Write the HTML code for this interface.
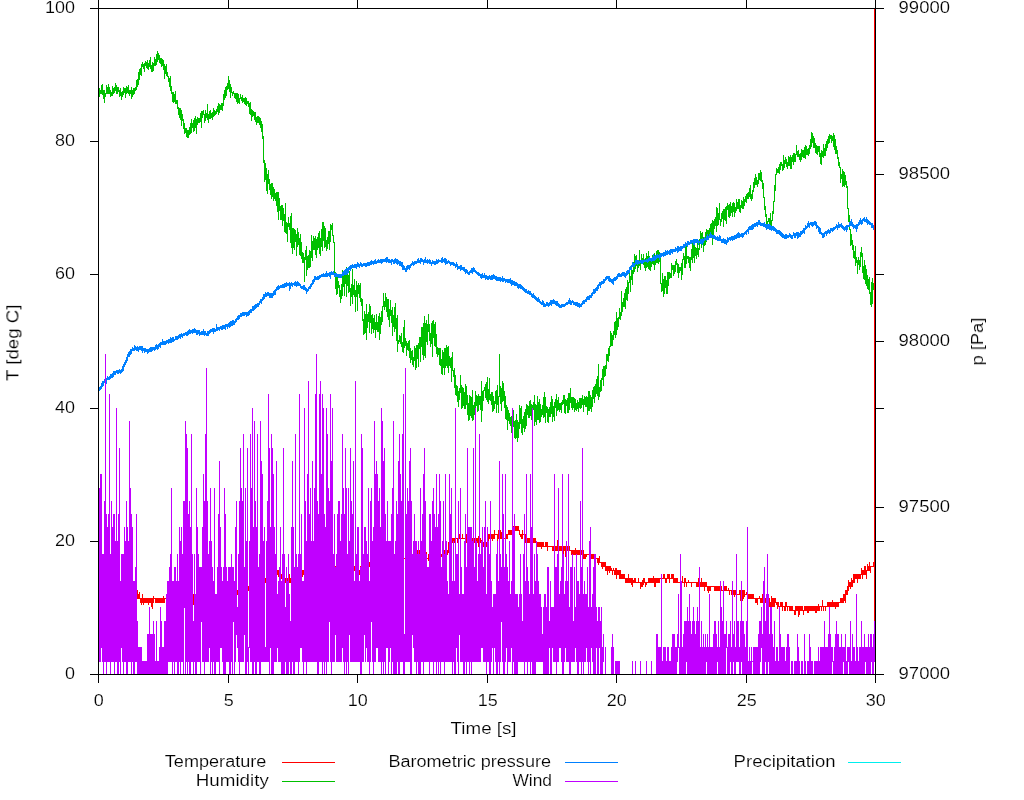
<!DOCTYPE html>
<html>
<head>
<meta charset="utf-8">
<title>Weather plot</title>
<style>
html, body { margin: 0; padding: 0; background: #ffffff; }
body { width: 1024px; height: 800px; overflow: hidden; }
svg { display: block; }
text { font-family: "Liberation Sans", sans-serif; font-size: 15.6px; fill: #000000; stroke: #ffffff; stroke-width: 0.16px; }
</style>
</head>
<body>
<svg width="1024" height="800" viewBox="0 0 1024 800">
<rect x="0" y="0" width="1024" height="800" fill="#ffffff"/>
<g shape-rendering="crispEdges">
<path fill="#ff0000" d="M98 584v7h1v-7zM99 586v9h1v-9zM100 590v5h1v-5zM101 590v1h1v-1zM102 590v5h1v-5zM103 590v5h1v-5zM104 590v5h1v-5zM105 590v5h1v-5zM106 586v9h1v-9zM107 590v5h1v-5zM108 590v5h1v-5zM109 594v1h1v-1zM110 590v7h1v-7zM111 590v5h1v-5zM112 590v5h1v-5zM113 590v5h1v-5zM114 590v7h1v-7zM115 594v1h1v-1zM116 590v5h1v-5zM117 590v5h1v-5zM118 588v11h1v-11zM119 594v5h1v-5zM120 594v5h1v-5zM121 594v7h1v-7zM122 594v5h1v-5zM123 594v5h1v-5zM124 594v1h1v-1zM125 594v5h1v-5zM126 594v5h1v-5zM127 594v5h1v-5zM128 594v1h1v-1zM129 594v1h1v-1zM130 594v1h1v-1zM131 592v7h1v-7zM132 592v3h1v-3zM133 590v9h1v-9zM134 590v9h1v-9zM135 594v5h1v-5zM136 594v1h1v-1zM137 590v9h1v-9zM138 594v5h1v-5zM139 592v7h1v-7zM140 598v5h1v-5zM141 598v7h1v-7zM142 594v9h1v-9zM143 598v7h1v-7zM144 598v5h1v-5zM145 598v5h1v-5zM146 598v5h1v-5zM147 598v5h1v-5zM148 598v7h1v-7zM149 598v5h1v-5zM150 598v5h1v-5zM151 598v9h1v-9zM152 598v11h1v-11zM153 596v7h1v-7zM154 598v1h1v-1zM155 598v5h1v-5zM156 598v5h1v-5zM157 598v5h1v-5zM158 598v5h1v-5zM159 598v5h1v-5zM160 598v5h1v-5zM161 598v5h1v-5zM162 598v5h1v-5zM163 596v7h1v-7zM164 598v5h1v-5zM165 598v1h1v-1zM166 594v5h1v-5zM167 594v1h1v-1zM168 594v5h1v-5zM169 592v3h1v-3zM170 594v5h1v-5zM171 592v7h1v-7zM172 594v5h1v-5zM173 594v5h1v-5zM174 592v7h1v-7zM175 594v5h1v-5zM176 594v7h1v-7zM177 594v5h1v-5zM178 594v1h1v-1zM179 594v5h1v-5zM180 594v5h1v-5zM181 594v5h1v-5zM182 594v5h1v-5zM183 594v5h1v-5zM184 594v7h1v-7zM185 594v5h1v-5zM186 594v5h1v-5zM187 594v5h1v-5zM188 594v9h1v-9zM189 594v5h1v-5zM190 598v1h1v-1zM191 594v5h1v-5zM192 594v5h1v-5zM193 594v11h1v-11zM194 598v5h1v-5zM195 598v5h1v-5zM196 598v5h1v-5zM197 598v5h1v-5zM198 598v5h1v-5zM199 598v9h1v-9zM200 598v5h1v-5zM201 602v1h1v-1zM202 602v5h1v-5zM203 602v5h1v-5zM204 602v5h1v-5zM205 602v5h1v-5zM206 602v1h1v-1zM207 602v1h1v-1zM208 598v11h1v-11zM209 602v5h1v-5zM210 598v5h1v-5zM211 598v5h1v-5zM212 598v9h1v-9zM213 598v5h1v-5zM214 598v5h1v-5zM215 598v5h1v-5zM216 596v7h1v-7zM217 598v1h1v-1zM218 598v5h1v-5zM219 598v1h1v-1zM220 598v1h1v-1zM221 598v3h1v-3zM222 598v5h1v-5zM223 596v7h1v-7zM224 594v5h1v-5zM225 592v7h1v-7zM226 592v7h1v-7zM227 594v5h1v-5zM228 594v7h1v-7zM229 594v5h1v-5zM230 594v5h1v-5zM231 590v11h1v-11zM232 590v9h1v-9zM233 590v9h1v-9zM234 590v5h1v-5zM235 590v5h1v-5zM236 590v5h1v-5zM237 590v5h1v-5zM238 588v7h1v-7zM239 590v5h1v-5zM240 590v5h1v-5zM241 590v7h1v-7zM242 586v9h1v-9zM243 586v5h1v-5zM244 584v7h1v-7zM245 586v9h1v-9zM246 586v7h1v-7zM247 584v7h1v-7zM248 586v5h1v-5zM249 586v5h1v-5zM250 586v5h1v-5zM251 582v5h1v-5zM252 582v5h1v-5zM253 582v7h1v-7zM254 582v5h1v-5zM255 582v5h1v-5zM256 582v5h1v-5zM257 582v7h1v-7zM258 582v1h1v-1zM259 582v5h1v-5zM260 576v7h1v-7zM261 578v5h1v-5zM262 578v5h1v-5zM263 578v5h1v-5zM264 578v5h1v-5zM265 578v5h1v-5zM266 578v1h1v-1zM267 574v9h1v-9zM268 574v5h1v-5zM269 578v1h1v-1zM270 574v9h1v-9zM271 574v7h1v-7zM272 574v5h1v-5zM273 574v5h1v-5zM274 572v7h1v-7zM275 570v9h1v-9zM276 574v5h1v-5zM277 570v5h1v-5zM278 570v7h1v-7zM279 570v5h1v-5zM280 574v5h1v-5zM281 574v5h1v-5zM282 574v7h1v-7zM283 578v5h1v-5zM284 578v5h1v-5zM285 578v5h1v-5zM286 578v5h1v-5zM287 578v5h1v-5zM288 578v3h1v-3zM289 574v9h1v-9zM290 578v5h1v-5zM291 578v5h1v-5zM292 578v1h1v-1zM293 574v5h1v-5zM294 578v1h1v-1zM295 572v7h1v-7zM296 574v5h1v-5zM297 574v5h1v-5zM298 574v7h1v-7zM299 574v5h1v-5zM300 568v11h1v-11zM301 570v5h1v-5zM302 570v7h1v-7zM303 570v5h1v-5zM304 570v5h1v-5zM305 572v7h1v-7zM306 570v5h1v-5zM307 570v5h1v-5zM308 570v5h1v-5zM309 570v5h1v-5zM310 570v5h1v-5zM311 570v5h1v-5zM312 570v5h1v-5zM313 568v7h1v-7zM314 570v5h1v-5zM315 570v7h1v-7zM316 570v5h1v-5zM317 568v3h1v-3zM318 570v5h1v-5zM319 570v7h1v-7zM320 564v7h1v-7zM321 566v7h1v-7zM322 566v5h1v-5zM323 566v9h1v-9zM324 564v7h1v-7zM325 566v5h1v-5zM326 566v5h1v-5zM327 566v5h1v-5zM328 566v5h1v-5zM329 566v5h1v-5zM330 566v5h1v-5zM331 566v9h1v-9zM332 566v1h1v-1zM333 566v1h1v-1zM334 566v1h1v-1zM335 566v5h1v-5zM336 566v5h1v-5zM337 566v1h1v-1zM338 566v1h1v-1zM339 560v7h1v-7zM340 566v1h1v-1zM341 562v5h1v-5zM342 562v7h1v-7zM343 566v3h1v-3zM344 566v1h1v-1zM345 562v5h1v-5zM346 562v5h1v-5zM347 562v5h1v-5zM348 558v9h1v-9zM349 558v13h1v-13zM350 562v5h1v-5zM351 562v1h1v-1zM352 562v5h1v-5zM353 566v1h1v-1zM354 566v5h1v-5zM355 564v7h1v-7zM356 568v3h1v-3zM357 570v5h1v-5zM358 570v5h1v-5zM359 570v5h1v-5zM360 566v9h1v-9zM361 566v5h1v-5zM362 566v5h1v-5zM363 566v5h1v-5zM364 566v7h1v-7zM365 566v1h1v-1zM366 566v1h1v-1zM367 566v5h1v-5zM368 562v7h1v-7zM369 562v5h1v-5zM370 562v5h1v-5zM371 562v7h1v-7zM372 562v5h1v-5zM373 562v5h1v-5zM374 556v11h1v-11zM375 558v9h1v-9zM376 562v1h1v-1zM377 558v5h1v-5zM378 558v9h1v-9zM379 558v9h1v-9zM380 562v3h1v-3zM381 556v7h1v-7zM382 562v1h1v-1zM383 562v1h1v-1zM384 560v3h1v-3zM385 558v5h1v-5zM386 562v5h1v-5zM387 556v11h1v-11zM388 558v5h1v-5zM389 558v5h1v-5zM390 558v9h1v-9zM391 562v5h1v-5zM392 558v9h1v-9zM393 558v5h1v-5zM394 558v5h1v-5zM395 560v3h1v-3zM396 558v5h1v-5zM397 558v5h1v-5zM398 558v5h1v-5zM399 558v3h1v-3zM400 556v3h1v-3zM401 558v5h1v-5zM402 554v5h1v-5zM403 554v9h1v-9zM404 558v1h1v-1zM405 554v5h1v-5zM406 554v5h1v-5zM407 558v1h1v-1zM408 554v5h1v-5zM409 554v5h1v-5zM410 554v5h1v-5zM411 554v3h1v-3zM412 554v5h1v-5zM413 552v7h1v-7zM414 550v5h1v-5zM415 550v5h1v-5zM416 550v9h1v-9zM417 550v5h1v-5zM418 554v5h1v-5zM419 550v5h1v-5zM420 550v9h1v-9zM421 554v5h1v-5zM422 554v5h1v-5zM423 554v5h1v-5zM424 554v7h1v-7zM425 554v5h1v-5zM426 552v7h1v-7zM427 558v1h1v-1zM428 554v7h1v-7zM429 554v9h1v-9zM430 558v5h1v-5zM431 558v1h1v-1zM432 554v5h1v-5zM433 554v5h1v-5zM434 554v5h1v-5zM435 550v9h1v-9zM436 550v9h1v-9zM437 554v7h1v-7zM438 554v3h1v-3zM439 554v5h1v-5zM440 554v5h1v-5zM441 554v3h1v-3zM442 554v5h1v-5zM443 550v9h1v-9zM444 550v5h1v-5zM445 554v1h1v-1zM446 548v7h1v-7zM447 550v5h1v-5zM448 542v11h1v-11zM449 542v7h1v-7zM450 542v3h1v-3zM451 538v5h1v-5zM452 538v5h1v-5zM453 538v7h1v-7zM454 538v5h1v-5zM455 534v9h1v-9zM456 538v1h1v-1zM457 538v5h1v-5zM458 538v5h1v-5zM459 534v5h1v-5zM460 534v11h1v-11zM461 538v1h1v-1zM462 534v5h1v-5zM463 538v1h1v-1zM464 538v1h1v-1zM465 538v1h1v-1zM466 534v9h1v-9zM467 534v5h1v-5zM468 538v1h1v-1zM469 538v5h1v-5zM470 532v7h1v-7zM471 534v9h1v-9zM472 538v5h1v-5zM473 536v7h1v-7zM474 538v5h1v-5zM475 536v7h1v-7zM476 538v5h1v-5zM477 538v5h1v-5zM478 536v11h1v-11zM479 538v11h1v-11zM480 538v5h1v-5zM481 540v3h1v-3zM482 542v5h1v-5zM483 542v5h1v-5zM484 542v1h1v-1zM485 542v5h1v-5zM486 542v5h1v-5zM487 538v5h1v-5zM488 534v9h1v-9zM489 534v5h1v-5zM490 534v5h1v-5zM491 534v5h1v-5zM492 534v7h1v-7zM493 534v5h1v-5zM494 530v9h1v-9zM495 534v1h1v-1zM496 534v1h1v-1zM497 534v7h1v-7zM498 530v9h1v-9zM499 530v5h1v-5zM500 530v9h1v-9zM501 532v7h1v-7zM502 534v5h1v-5zM503 538v1h1v-1zM504 538v1h1v-1zM505 532v7h1v-7zM506 534v5h1v-5zM507 534v5h1v-5zM508 530v5h1v-5zM509 530v5h1v-5zM510 530v5h1v-5zM511 530v5h1v-5zM512 530v5h1v-5zM513 526v5h1v-5zM514 526v7h1v-7zM515 526v5h1v-5zM516 526v5h1v-5zM517 526v5h1v-5zM518 526v5h1v-5zM519 530v5h1v-5zM520 534v3h1v-3zM521 534v5h1v-5zM522 530v9h1v-9zM523 534v1h1v-1zM524 534v9h1v-9zM525 534v9h1v-9zM526 538v5h1v-5zM527 538v5h1v-5zM528 538v5h1v-5zM529 538v5h1v-5zM530 538v5h1v-5zM531 538v5h1v-5zM532 536v7h1v-7zM533 538v5h1v-5zM534 538v5h1v-5zM535 538v5h1v-5zM536 542v3h1v-3zM537 542v5h1v-5zM538 542v5h1v-5zM539 542v5h1v-5zM540 542v5h1v-5zM541 542v7h1v-7zM542 542v5h1v-5zM543 542v5h1v-5zM544 546v1h1v-1zM545 542v5h1v-5zM546 542v5h1v-5zM547 542v9h1v-9zM548 546v1h1v-1zM549 546v1h1v-1zM550 546v1h1v-1zM551 546v1h1v-1zM552 546v5h1v-5zM553 546v5h1v-5zM554 546v5h1v-5zM555 546v5h1v-5zM556 546v5h1v-5zM557 540v11h1v-11zM558 542v9h1v-9zM559 546v5h1v-5zM560 546v5h1v-5zM561 546v5h1v-5zM562 546v5h1v-5zM563 546v9h1v-9zM564 546v5h1v-5zM565 546v11h1v-11zM566 546v5h1v-5zM567 546v5h1v-5zM568 546v5h1v-5zM569 546v5h1v-5zM570 550v1h1v-1zM571 550v5h1v-5zM572 550v5h1v-5zM573 550v5h1v-5zM574 550v5h1v-5zM575 548v7h1v-7zM576 550v5h1v-5zM577 550v5h1v-5zM578 550v5h1v-5zM579 550v5h1v-5zM580 550v7h1v-7zM581 550v5h1v-5zM582 550v5h1v-5zM583 550v9h1v-9zM584 554v5h1v-5zM585 554v5h1v-5zM586 554v3h1v-3zM587 554v1h1v-1zM588 554v1h1v-1zM589 554v5h1v-5zM590 554v1h1v-1zM591 554v5h1v-5zM592 554v5h1v-5zM593 554v5h1v-5zM594 558v1h1v-1zM595 558v5h1v-5zM596 558v1h1v-1zM597 558v5h1v-5zM598 558v7h1v-7zM599 556v7h1v-7zM600 562v1h1v-1zM601 562v5h1v-5zM602 562v7h1v-7zM603 562v5h1v-5zM604 562v5h1v-5zM605 562v9h1v-9zM606 566v5h1v-5zM607 566v9h1v-9zM608 566v5h1v-5zM609 566v7h1v-7zM610 566v5h1v-5zM611 568v3h1v-3zM612 570v5h1v-5zM613 568v3h1v-3zM614 570v5h1v-5zM615 568v7h1v-7zM616 568v11h1v-11zM617 570v5h1v-5zM618 570v5h1v-5zM619 570v9h1v-9zM620 570v9h1v-9zM621 574v5h1v-5zM622 574v5h1v-5zM623 574v5h1v-5zM624 574v5h1v-5zM625 578v5h1v-5zM626 578v5h1v-5zM627 578v5h1v-5zM628 574v9h1v-9zM629 578v5h1v-5zM630 578v5h1v-5zM631 578v7h1v-7zM632 578v9h1v-9zM633 580v3h1v-3zM634 578v5h1v-5zM635 578v5h1v-5zM636 582v1h1v-1zM637 582v1h1v-1zM638 578v5h1v-5zM639 582v1h1v-1zM640 582v7h1v-7zM641 582v5h1v-5zM642 580v7h1v-7zM643 578v7h1v-7zM644 578v5h1v-5zM645 582v5h1v-5zM646 582v3h1v-3zM647 582v1h1v-1zM648 578v5h1v-5zM649 578v5h1v-5zM650 578v5h1v-5zM651 578v5h1v-5zM652 578v5h1v-5zM653 576v7h1v-7zM654 578v9h1v-9zM655 578v9h1v-9zM656 578v5h1v-5zM657 578v5h1v-5zM658 578v5h1v-5zM659 578v5h1v-5zM660 578v1h1v-1zM661 574v5h1v-5zM662 578v1h1v-1zM663 574v5h1v-5zM664 574v5h1v-5zM665 578v5h1v-5zM666 578v5h1v-5zM667 574v5h1v-5zM668 574v5h1v-5zM669 574v9h1v-9zM670 578v1h1v-1zM671 574v5h1v-5zM672 574v5h1v-5zM673 574v9h1v-9zM674 578v5h1v-5zM675 578v5h1v-5zM676 578v5h1v-5zM677 578v5h1v-5zM678 582v1h1v-1zM679 582v1h1v-1zM680 582v1h1v-1zM681 582v1h1v-1zM682 576v7h1v-7zM683 582v1h1v-1zM684 578v9h1v-9zM685 578v5h1v-5zM686 582v5h1v-5zM687 582v1h1v-1zM688 580v3h1v-3zM689 582v1h1v-1zM690 582v1h1v-1zM691 582v5h1v-5zM692 582v1h1v-1zM693 582v1h1v-1zM694 582v1h1v-1zM695 582v1h1v-1zM696 582v5h1v-5zM697 582v5h1v-5zM698 578v9h1v-9zM699 578v5h1v-5zM700 582v5h1v-5zM701 578v9h1v-9zM702 582v5h1v-5zM703 582v5h1v-5zM704 582v9h1v-9zM705 582v5h1v-5zM706 582v5h1v-5zM707 586v5h1v-5zM708 586v7h1v-7zM709 586v5h1v-5zM710 586v5h1v-5zM711 586v1h1v-1zM712 586v1h1v-1zM713 586v1h1v-1zM714 586v5h1v-5zM715 586v5h1v-5zM716 586v5h1v-5zM717 586v5h1v-5zM718 586v5h1v-5zM719 586v5h1v-5zM720 584v7h1v-7zM721 586v5h1v-5zM722 590v1h1v-1zM723 586v5h1v-5zM724 586v5h1v-5zM725 586v5h1v-5zM726 586v5h1v-5zM727 590v1h1v-1zM728 588v3h1v-3zM729 590v5h1v-5zM730 590v1h1v-1zM731 590v5h1v-5zM732 590v5h1v-5zM733 590v5h1v-5zM734 590v7h1v-7zM735 590v5h1v-5zM736 590v7h1v-7zM737 594v1h1v-1zM738 594v1h1v-1zM739 590v5h1v-5zM740 590v11h1v-11zM741 590v9h1v-9zM742 590v11h1v-11zM743 590v9h1v-9zM744 590v7h1v-7zM745 594v1h1v-1zM746 592v3h1v-3zM747 594v5h1v-5zM748 594v5h1v-5zM749 594v5h1v-5zM750 594v5h1v-5zM751 594v5h1v-5zM752 594v5h1v-5zM753 594v5h1v-5zM754 598v1h1v-1zM755 598v5h1v-5zM756 598v5h1v-5zM757 598v7h1v-7zM758 598v1h1v-1zM759 596v3h1v-3zM760 598v5h1v-5zM761 598v5h1v-5zM762 594v9h1v-9zM763 602v1h1v-1zM764 598v5h1v-5zM765 598v5h1v-5zM766 598v7h1v-7zM767 598v5h1v-5zM768 598v5h1v-5zM769 598v9h1v-9zM770 602v5h1v-5zM771 596v11h1v-11zM772 598v9h1v-9zM773 598v9h1v-9zM774 598v9h1v-9zM775 598v5h1v-5zM776 602v3h1v-3zM777 602v7h1v-7zM778 602v5h1v-5zM779 606v1h1v-1zM780 602v5h1v-5zM781 602v5h1v-5zM782 602v9h1v-9zM783 606v1h1v-1zM784 606v5h1v-5zM785 602v9h1v-9zM786 602v5h1v-5zM787 606v5h1v-5zM788 606v1h1v-1zM789 606v5h1v-5zM790 606v5h1v-5zM791 606v5h1v-5zM792 606v5h1v-5zM793 610v1h1v-1zM794 610v5h1v-5zM795 606v9h1v-9zM796 606v5h1v-5zM797 606v5h1v-5zM798 606v11h1v-11zM799 606v9h1v-9zM800 606v5h1v-5zM801 606v5h1v-5zM802 606v5h1v-5zM803 610v5h1v-5zM804 606v5h1v-5zM805 606v5h1v-5zM806 606v5h1v-5zM807 606v7h1v-7zM808 606v7h1v-7zM809 606v5h1v-5zM810 606v5h1v-5zM811 606v5h1v-5zM812 606v5h1v-5zM813 606v5h1v-5zM814 606v5h1v-5zM815 606v7h1v-7zM816 606v7h1v-7zM817 606v5h1v-5zM818 604v7h1v-7zM819 606v5h1v-5zM820 606v1h1v-1zM821 606v5h1v-5zM822 600v7h1v-7zM823 606v5h1v-5zM824 606v1h1v-1zM825 606v5h1v-5zM826 606v1h1v-1zM827 602v5h1v-5zM828 602v5h1v-5zM829 602v5h1v-5zM830 602v5h1v-5zM831 602v5h1v-5zM832 600v7h1v-7zM833 602v5h1v-5zM834 602v5h1v-5zM835 602v7h1v-7zM836 602v5h1v-5zM837 602v5h1v-5zM838 602v5h1v-5zM839 602v1h1v-1zM840 598v5h1v-5zM841 598v5h1v-5zM842 598v5h1v-5zM843 594v9h1v-9zM844 594v7h1v-7zM845 590v13h1v-13zM846 590v5h1v-5zM847 586v9h1v-9zM848 580v11h1v-11zM849 582v5h1v-5zM850 582v7h1v-7zM851 578v9h1v-9zM852 580v7h1v-7zM853 574v9h1v-9zM854 574v9h1v-9zM855 574v5h1v-5zM856 574v5h1v-5zM857 574v9h1v-9zM858 574v5h1v-5zM859 574v5h1v-5zM860 574v5h1v-5zM861 568v7h1v-7zM862 570v9h1v-9zM863 570v5h1v-5zM864 566v9h1v-9zM865 566v9h1v-9zM866 570v9h1v-9zM867 564v7h1v-7zM868 566v5h1v-5zM869 562v9h1v-9zM870 566v7h1v-7zM871 566v1h1v-1zM872 566v1h1v-1zM873 562v5h1v-5zM874 566v5h1v-5z"/>
<path fill="#00c000" d="M98 90v2h1v-2zM99 88v9h1v-9zM100 90v4h1v-4zM101 85v9h1v-9zM102 84v11h1v-11zM103 90v9h1v-9zM104 90v13h1v-13zM105 93v4h1v-4zM106 85v9h1v-9zM107 87v7h1v-7zM108 84v10h1v-10zM109 87v7h1v-7zM110 90v7h1v-7zM111 92v4h1v-4zM112 86v10h1v-10zM113 88v6h1v-6zM114 87v6h1v-6zM115 83v8h1v-8zM116 85v9h1v-9zM117 87v7h1v-7zM118 87v5h1v-5zM119 90v7h1v-7zM120 88v8h1v-8zM121 92v8h1v-8zM122 91v6h1v-6zM123 87v8h1v-8zM124 88v5h1v-5zM125 88v10h1v-10zM126 86v8h1v-8zM127 87v6h1v-6zM128 85v9h1v-9zM129 90v6h1v-6zM130 90v4h1v-4zM131 87v12h1v-12zM132 90v7h1v-7zM133 88v7h1v-7zM134 88v6h1v-6zM135 87v4h1v-4zM136 80v10h1v-10zM137 79v8h1v-8zM138 72v13h1v-13zM139 69v11h1v-11zM140 68v7h1v-7zM141 64v12h1v-12zM142 62v5h1v-5zM143 64v5h1v-5zM144 63v9h1v-9zM145 61v5h1v-5zM146 62v6h1v-6zM147 60v9h1v-9zM148 63v7h1v-7zM149 60v7h1v-7zM150 57v12h1v-12zM151 65v7h1v-7zM152 62v10h1v-10zM153 63v8h1v-8zM154 57v9h1v-9zM155 59v7h1v-7zM156 54v11h1v-11zM157 51v11h1v-11zM158 53v7h1v-7zM159 55v8h1v-8zM160 58v6h1v-6zM161 58v9h1v-9zM162 59v7h1v-7zM163 60v10h1v-10zM164 64v15h1v-15zM165 66v8h1v-8zM166 64v12h1v-12zM167 72v5h1v-5zM168 76v6h1v-6zM169 78v9h1v-9zM170 76v15h1v-15zM171 86v8h1v-8zM172 92v10h1v-10zM173 92v11h1v-11zM174 94v8h1v-8zM175 91v13h1v-13zM176 100v4h1v-4zM177 100v9h1v-9zM178 107v8h1v-8zM179 108v10h1v-10zM180 108v12h1v-12zM181 110v16h1v-16zM182 114v7h1v-7zM183 119v10h1v-10zM184 123v11h1v-11zM185 128v5h1v-5zM186 128v9h1v-9zM187 130v8h1v-8zM188 130v8h1v-8zM189 127v8h1v-8zM190 123v11h1v-11zM191 119v14h1v-14zM192 123v5h1v-5zM193 120v12h1v-12zM194 118v13h1v-13zM195 116v12h1v-12zM196 119v15h1v-15zM197 117v8h1v-8zM198 118v5h1v-5zM199 118v5h1v-5zM200 113v9h1v-9zM201 111v17h1v-17zM202 111v7h1v-7zM203 110v5h1v-5zM204 114v9h1v-9zM205 110v11h1v-11zM206 113v5h1v-5zM207 104v16h1v-16zM208 114v9h1v-9zM209 111v8h1v-8zM210 110v9h1v-9zM211 113v5h1v-5zM212 112v8h1v-8zM213 108v9h1v-9zM214 110v6h1v-6zM215 111v4h1v-4zM216 109v5h1v-5zM217 106v6h1v-6zM218 103v12h1v-12zM219 104v9h1v-9zM220 105v5h1v-5zM221 103v7h1v-7zM222 103v8h1v-8zM223 94v12h1v-12zM224 90v10h1v-10zM225 87v11h1v-11zM226 86v10h1v-10zM227 83v7h1v-7zM228 76v13h1v-13zM229 80v12h1v-12zM230 84v14h1v-14zM231 87v6h1v-6zM232 92v4h1v-4zM233 91v3h1v-3zM234 93v5h1v-5zM235 93v6h1v-6zM236 93v9h1v-9zM237 93v11h1v-11zM238 94v9h1v-9zM239 98v6h1v-6zM240 94v5h1v-5zM241 97v4h1v-4zM242 95v8h1v-8zM243 98v4h1v-4zM244 98v6h1v-6zM245 97v8h1v-8zM246 98v8h1v-8zM247 101v3h1v-3zM248 101v6h1v-6zM249 103v11h1v-11zM250 102v13h1v-13zM251 109v12h1v-12zM252 110v7h1v-7zM253 111v5h1v-5zM254 112v8h1v-8zM255 112v10h1v-10zM256 117v8h1v-8zM257 116v7h1v-7zM258 116v7h1v-7zM259 117v8h1v-8zM260 118v10h1v-10zM261 121v11h1v-11zM262 124v15h1v-15zM263 136v27h1v-27zM264 160v22h1v-22zM265 163v17h1v-17zM266 168v23h1v-23zM267 174v20h1v-20zM268 170v14h1v-14zM269 179v11h1v-11zM270 184v11h1v-11zM271 183v16h1v-16zM272 183v14h1v-14zM273 187v14h1v-14zM274 189v10h1v-10zM275 193v8h1v-8zM276 192v14h1v-14zM277 192v20h1v-20zM278 192v28h1v-28zM279 198v13h1v-13zM280 206v14h1v-14zM281 205v15h1v-15zM282 205v21h1v-21zM283 208v13h1v-13zM284 214v18h1v-18zM285 203v30h1v-30zM286 222v12h1v-12zM287 223v19h1v-19zM288 217v10h1v-10zM289 223v7h1v-7zM290 216v27h1v-27zM291 213v35h1v-35zM292 228v26h1v-26zM293 228v20h1v-20zM294 229v21h1v-21zM295 230v12h1v-12zM296 234v22h1v-22zM297 228v19h1v-19zM298 232v13h1v-13zM299 238v17h1v-17zM300 234v22h1v-22zM301 242v17h1v-17zM302 252v11h1v-11zM303 253v10h1v-10zM304 257v25h1v-25zM305 250v10h1v-10zM306 246v30h1v-30zM307 256v14h1v-14zM308 255v13h1v-13zM309 250v18h1v-18zM310 251v16h1v-16zM311 235v23h1v-23zM312 241v20h1v-20zM313 236v14h1v-14zM314 238v12h1v-12zM315 236v19h1v-19zM316 239v19h1v-19zM317 237v13h1v-13zM318 233v15h1v-15zM319 231v23h1v-23zM320 238v18h1v-18zM321 229v18h1v-18zM322 222v29h1v-29zM323 222v19h1v-19zM324 226v22h1v-22zM325 228v19h1v-19zM326 240v11h1v-11zM327 237v12h1v-12zM328 231v13h1v-13zM329 231v19h1v-19zM330 224v18h1v-18zM331 225v5h1v-5zM332 223v13h1v-13zM333 235v8h1v-8zM334 242v31h1v-31zM335 272v17h1v-17zM336 273v22h1v-22zM337 277v17h1v-17zM338 281v7h1v-7zM339 285v12h1v-12zM340 290v13h1v-13zM341 284v15h1v-15zM342 270v26h1v-26zM343 272v15h1v-15zM344 274v22h1v-22zM345 270v14h1v-14zM346 267v30h1v-30zM347 271v15h1v-15zM348 275v18h1v-18zM349 271v21h1v-21zM350 288v18h1v-18zM351 284v13h1v-13zM352 269v35h1v-35zM353 285v10h1v-10zM354 279v18h1v-18zM355 290v22h1v-22zM356 281v16h1v-16zM357 285v26h1v-26zM358 283v11h1v-11zM359 285v13h1v-13zM360 283v19h1v-19zM361 298v8h1v-8zM362 299v22h1v-22zM363 319v16h1v-16zM364 311v23h1v-23zM365 314v19h1v-19zM366 304v36h1v-36zM367 314v14h1v-14zM368 312v10h1v-10zM369 304v29h1v-29zM370 306v17h1v-17zM371 315v19h1v-19zM372 314v15h1v-15zM373 318v15h1v-15zM374 315v15h1v-15zM375 322v16h1v-16zM376 314v16h1v-16zM377 322v10h1v-10zM378 316v16h1v-16zM379 313v27h1v-27zM380 317v17h1v-17zM381 311v14h1v-14zM382 306v16h1v-16zM383 293v14h1v-14zM384 301v9h1v-9zM385 293v14h1v-14zM386 297v15h1v-15zM387 299v18h1v-18zM388 299v21h1v-21zM389 309v18h1v-18zM390 300v16h1v-16zM391 310v13h1v-13zM392 307v29h1v-29zM393 315v12h1v-12zM394 307v25h1v-25zM395 303v26h1v-26zM396 318v23h1v-23zM397 315v37h1v-37zM398 340v4h1v-4zM399 335v7h1v-7zM400 336v8h1v-8zM401 333v14h1v-14zM402 342v10h1v-10zM403 327v26h1v-26zM404 320v28h1v-28zM405 338v8h1v-8zM406 341v15h1v-15zM407 343v7h1v-7zM408 341v10h1v-10zM409 340v18h1v-18zM410 348v15h1v-15zM411 351v9h1v-9zM412 350v15h1v-15zM413 357v10h1v-10zM414 346v15h1v-15zM415 348v22h1v-22zM416 345v23h1v-23zM417 345v14h1v-14zM418 343v24h1v-24zM419 337v12h1v-12zM420 337v25h1v-25zM421 327v20h1v-20zM422 327v28h1v-28zM423 323v37h1v-37zM424 316v40h1v-40zM425 323v35h1v-35zM426 320v22h1v-22zM427 324v21h1v-21zM428 314v18h1v-18zM429 324v17h1v-17zM430 333v14h1v-14zM431 323v21h1v-21zM432 321v36h1v-36zM433 320v18h1v-18zM434 324v22h1v-22zM435 322v25h1v-25zM436 334v20h1v-20zM437 347v10h1v-10zM438 348v7h1v-7zM439 348v17h1v-17zM440 348v18h1v-18zM441 359v15h1v-15zM442 350v25h1v-25zM443 352v16h1v-16zM444 348v27h1v-27zM445 348v20h1v-20zM446 345v21h1v-21zM447 347v21h1v-21zM448 346v27h1v-27zM449 356v10h1v-10zM450 358v10h1v-10zM451 357v25h1v-25zM452 352v19h1v-19zM453 370v7h1v-7zM454 368v20h1v-20zM455 375v20h1v-20zM456 385v11h1v-11zM457 386v16h1v-16zM458 391v16h1v-16zM459 388v12h1v-12zM460 375v18h1v-18zM461 385v24h1v-24zM462 387v21h1v-21zM463 388v18h1v-18zM464 392v17h1v-17zM465 384v25h1v-25zM466 386v19h1v-19zM467 395v20h1v-20zM468 403v18h1v-18zM469 395v25h1v-25zM470 396v20h1v-20zM471 397v21h1v-21zM472 390v31h1v-31zM473 405v15h1v-15zM474 402v13h1v-13zM475 391v29h1v-29zM476 395v11h1v-11zM477 396v16h1v-16zM478 394v17h1v-17zM479 396v9h1v-9zM480 396v14h1v-14zM481 381v41h1v-41zM482 391v20h1v-20zM483 390v11h1v-11zM484 387v4h1v-4zM485 384v14h1v-14zM486 382v18h1v-18zM487 377v25h1v-25zM488 389v15h1v-15zM489 378v22h1v-22zM490 394v7h1v-7zM491 392v13h1v-13zM492 392v20h1v-20zM493 396v15h1v-15zM494 401v8h1v-8zM495 391v13h1v-13zM496 390v23h1v-23zM497 385v20h1v-20zM498 396v17h1v-17zM499 354v43h1v-43zM500 386v18h1v-18zM501 388v23h1v-23zM502 381v21h1v-21zM503 383v18h1v-18zM504 391v17h1v-17zM505 396v23h1v-23zM506 405v15h1v-15zM507 407v23h1v-23zM508 410v11h1v-11zM509 413v11h1v-11zM510 417v9h1v-9zM511 416v17h1v-17zM512 417v11h1v-11zM513 410v17h1v-17zM514 421v17h1v-17zM515 420v19h1v-19zM516 414v24h1v-24zM517 420v22h1v-22zM518 422v16h1v-16zM519 405v24h1v-24zM520 408v16h1v-16zM521 406v27h1v-27zM522 419v16h1v-16zM523 416v12h1v-12zM524 412v20h1v-20zM525 409v20h1v-20zM526 404v22h1v-22zM527 405v10h1v-10zM528 406v12h1v-12zM529 401v17h1v-17zM530 400v16h1v-16zM531 404v16h1v-16zM532 405v10h1v-10zM533 402v8h1v-8zM534 395v31h1v-31zM535 404v18h1v-18zM536 405v20h1v-20zM537 396v24h1v-24zM538 402v18h1v-18zM539 399v24h1v-24zM540 404v18h1v-18zM541 409v8h1v-8zM542 405v10h1v-10zM543 397v21h1v-21zM544 392v25h1v-25zM545 397v26h1v-26zM546 406v7h1v-7zM547 407v15h1v-15zM548 409v14h1v-14zM549 407v10h1v-10zM550 402v15h1v-15zM551 396v18h1v-18zM552 399v23h1v-23zM553 406v11h1v-11zM554 402v19h1v-19zM555 399v9h1v-9zM556 394v22h1v-22zM557 400v11h1v-11zM558 397v13h1v-13zM559 403v9h1v-9zM560 403v7h1v-7zM561 402v11h1v-11zM562 400v5h1v-5zM563 395v9h1v-9zM564 395v18h1v-18zM565 399v15h1v-15zM566 400v6h1v-6zM567 398v15h1v-15zM568 393v20h1v-20zM569 393v17h1v-17zM570 388v15h1v-15zM571 397v11h1v-11zM572 397v13h1v-13zM573 397v11h1v-11zM574 398v14h1v-14zM575 399v11h1v-11zM576 403v8h1v-8zM577 400v9h1v-9zM578 402v10h1v-10zM579 398v10h1v-10zM580 398v11h1v-11zM581 398v10h1v-10zM582 395v10h1v-10zM583 399v13h1v-13zM584 396v9h1v-9zM585 397v10h1v-10zM586 396v11h1v-11zM587 397v18h1v-18zM588 391v20h1v-20zM589 391v20h1v-20zM590 395v14h1v-14zM591 397v15h1v-15zM592 390v17h1v-17zM593 387v12h1v-12zM594 386v17h1v-17zM595 384v13h1v-13zM596 379v15h1v-15zM597 376v20h1v-20zM598 364v36h1v-36zM599 387v10h1v-10zM600 380v12h1v-12zM601 378v13h1v-13zM602 369v11h1v-11zM603 366v20h1v-20zM604 366v11h1v-11zM605 365v11h1v-11zM606 354v15h1v-15zM607 354v7h1v-7zM608 348v14h1v-14zM609 346v10h1v-10zM610 331v16h1v-16zM611 333v13h1v-13zM612 335v11h1v-11zM613 331v9h1v-9zM614 322v13h1v-13zM615 321v17h1v-17zM616 312v23h1v-23zM617 318v12h1v-12zM618 317v10h1v-10zM619 308v11h1v-11zM620 312v8h1v-8zM621 291v25h1v-25zM622 302v10h1v-10zM623 298v9h1v-9zM624 293v14h1v-14zM625 289v20h1v-20zM626 287v13h1v-13zM627 280v21h1v-21zM628 282v12h1v-12zM629 270v13h1v-13zM630 276v16h1v-16zM631 269v11h1v-11zM632 270v15h1v-15zM633 262v12h1v-12zM634 254v18h1v-18zM635 256v13h1v-13zM636 255v11h1v-11zM637 262v10h1v-10zM638 262v6h1v-6zM639 250v16h1v-16zM640 260v10h1v-10zM641 254v9h1v-9zM642 258v6h1v-6zM643 254v11h1v-11zM644 261v7h1v-7zM645 258v13h1v-13zM646 253v15h1v-15zM647 256v11h1v-11zM648 251v18h1v-18zM649 256v14h1v-14zM650 261v10h1v-10zM651 259v8h1v-8zM652 255v9h1v-9zM653 256v9h1v-9zM654 253v17h1v-17zM655 258v7h1v-7zM656 251v12h1v-12zM657 250v13h1v-13zM658 250v14h1v-14zM659 252v10h1v-10zM660 258v26h1v-26zM661 283v9h1v-9zM662 273v18h1v-18zM663 279v18h1v-18zM664 276v18h1v-18zM665 276v12h1v-12zM666 280v14h1v-14zM667 272v22h1v-22zM668 272v14h1v-14zM669 272v7h1v-7zM670 273v5h1v-5zM671 263v15h1v-15zM672 265v5h1v-5zM673 265v11h1v-11zM674 265v9h1v-9zM675 261v11h1v-11zM676 259v6h1v-6zM677 263v10h1v-10zM678 264v14h1v-14zM679 267v6h1v-6zM680 267v4h1v-4zM681 263v17h1v-17zM682 259v16h1v-16zM683 253v7h1v-7zM684 256v12h1v-12zM685 245v23h1v-23zM686 245v19h1v-19zM687 256v3h1v-3zM688 256v7h1v-7zM689 257v11h1v-11zM690 257v14h1v-14zM691 249v11h1v-11zM692 241v22h1v-22zM693 240v18h1v-18zM694 243v20h1v-20zM695 247v9h1v-9zM696 248v11h1v-11zM697 242v13h1v-13zM698 248v9h1v-9zM699 239v11h1v-11zM700 231v13h1v-13zM701 233v15h1v-15zM702 232v11h1v-11zM703 237v15h1v-15zM704 237v9h1v-9zM705 232v13h1v-13zM706 229v13h1v-13zM707 230v7h1v-7zM708 230v6h1v-6zM709 228v7h1v-7zM710 224v9h1v-9zM711 223v14h1v-14zM712 220v25h1v-25zM713 221v16h1v-16zM714 219v10h1v-10zM715 217v9h1v-9zM716 207v25h1v-25zM717 208v18h1v-18zM718 213v12h1v-12zM719 203v17h1v-17zM720 219v7h1v-7zM721 213v9h1v-9zM722 211v8h1v-8zM723 209v18h1v-18zM724 209v11h1v-11zM725 207v14h1v-14zM726 206v18h1v-18zM727 203v7h1v-7zM728 205v12h1v-12zM729 204v14h1v-14zM730 202v14h1v-14zM731 206v7h1v-7zM732 203v14h1v-14zM733 202v10h1v-10zM734 203v14h1v-14zM735 207v6h1v-6zM736 199v12h1v-12zM737 202v7h1v-7zM738 199v10h1v-10zM739 199v13h1v-13zM740 205v8h1v-8zM741 200v8h1v-8zM742 201v8h1v-8zM743 197v12h1v-12zM744 199v7h1v-7zM745 196v6h1v-6zM746 194v9h1v-9zM747 193v6h1v-6zM748 192v7h1v-7zM749 188v9h1v-9zM750 185v14h1v-14zM751 194v7h1v-7zM752 190v9h1v-9zM753 182v10h1v-10zM754 178v10h1v-10zM755 174v11h1v-11zM756 177v8h1v-8zM757 180v7h1v-7zM758 173v11h1v-11zM759 173v7h1v-7zM760 170v11h1v-11zM761 172v10h1v-10zM762 180v9h1v-9zM763 183v15h1v-15zM764 197v13h1v-13zM765 206v11h1v-11zM766 214v11h1v-11zM767 221v7h1v-7zM768 218v4h1v-4zM769 218v8h1v-8zM770 213v12h1v-12zM771 220v10h1v-10zM772 211v10h1v-10zM773 201v13h1v-13zM774 185v17h1v-17zM775 174v17h1v-17zM776 168v7h1v-7zM777 169v4h1v-4zM778 167v6h1v-6zM779 164v10h1v-10zM780 162v8h1v-8zM781 162v4h1v-4zM782 164v7h1v-7zM783 155v15h1v-15zM784 160v8h1v-8zM785 157v7h1v-7zM786 159v8h1v-8zM787 162v7h1v-7zM788 156v10h1v-10zM789 157v9h1v-9zM790 155v14h1v-14zM791 157v12h1v-12zM792 155v7h1v-7zM793 153v12h1v-12zM794 153v9h1v-9zM795 154v8h1v-8zM796 145v10h1v-10zM797 151v6h1v-6zM798 150v7h1v-7zM799 154v6h1v-6zM800 153v9h1v-9zM801 149v11h1v-11zM802 150v7h1v-7zM803 150v8h1v-8zM804 147v11h1v-11zM805 145v14h1v-14zM806 146v9h1v-9zM807 149v6h1v-6zM808 148v8h1v-8zM809 145v9h1v-9zM810 139v10h1v-10zM811 132v15h1v-15zM812 133v10h1v-10zM813 136v12h1v-12zM814 138v10h1v-10zM815 143v10h1v-10zM816 145v9h1v-9zM817 146v9h1v-9zM818 146v6h1v-6zM819 146v11h1v-11zM820 153v11h1v-11zM821 150v15h1v-15zM822 151v6h1v-6zM823 144v14h1v-14zM824 148v8h1v-8zM825 144v12h1v-12zM826 141v10h1v-10zM827 139v9h1v-9zM828 136v8h1v-8zM829 134v9h1v-9zM830 135v4h1v-4zM831 135v8h1v-8zM832 136v5h1v-5zM833 133v14h1v-14zM834 135v15h1v-15zM835 139v15h1v-15zM836 146v8h1v-8zM837 150v9h1v-9zM838 157v9h1v-9zM839 162v6h1v-6zM840 167v16h1v-16zM841 174v5h1v-5zM842 169v18h1v-18zM843 171v15h1v-15zM844 172v15h1v-15zM845 175v10h1v-10zM846 181v7h1v-7zM847 186v23h1v-23zM848 208v14h1v-14zM849 215v15h1v-15zM850 229v17h1v-17zM851 234v11h1v-11zM852 240v10h1v-10zM853 245v13h1v-13zM854 251v8h1v-8zM855 246v20h1v-20zM856 257v6h1v-6zM857 260v14h1v-14zM858 257v8h1v-8zM859 260v10h1v-10zM860 252v15h1v-15zM861 247v10h1v-10zM862 253v20h1v-20zM863 266v13h1v-13zM864 260v20h1v-20zM865 265v19h1v-19zM866 269v17h1v-17zM867 275v14h1v-14zM868 279v11h1v-11zM869 277v17h1v-17zM870 292v13h1v-13zM871 282v25h1v-25zM872 278v26h1v-26zM873 283v7h1v-7zM874 287v9h1v-9z"/>
<path fill="#0080ff" d="M98 388v3h1v-3zM99 387v4h1v-4zM100 386v4h1v-4zM101 383v6h1v-6zM102 381v6h1v-6zM103 381v5h1v-5zM104 379v4h1v-4zM105 378v4h1v-4zM106 378v6h1v-6zM107 376v4h1v-4zM108 377v3h1v-3zM109 376v4h1v-4zM110 374v5h1v-5zM111 374v4h1v-4zM112 373v5h1v-5zM113 371v6h1v-6zM114 371v4h1v-4zM115 371v4h1v-4zM116 370v3h1v-3zM117 370v4h1v-4zM118 370v4h1v-4zM119 369v4h1v-4zM120 370v4h1v-4zM121 369v4h1v-4zM122 366v6h1v-6zM123 364v7h1v-7zM124 362v5h1v-5zM125 360v5h1v-5zM126 357v6h1v-6zM127 354v7h1v-7zM128 352v5h1v-5zM129 351v6h1v-6zM130 349v6h1v-6zM131 349v5h1v-5zM132 347v4h1v-4zM133 348v3h1v-3zM134 345v6h1v-6zM135 346v4h1v-4zM136 347v4h1v-4zM137 346v5h1v-5zM138 347v5h1v-5zM139 346v4h1v-4zM140 346v4h1v-4zM141 346v5h1v-5zM142 346v7h1v-7zM143 348v3h1v-3zM144 348v5h1v-5zM145 348v4h1v-4zM146 349v3h1v-3zM147 349v5h1v-5zM148 349v4h1v-4zM149 348v4h1v-4zM150 347v5h1v-5zM151 347v5h1v-5zM152 347v4h1v-4zM153 347v3h1v-3zM154 347v4h1v-4zM155 345v5h1v-5zM156 344v5h1v-5zM157 345v5h1v-5zM158 344v5h1v-5zM159 343v4h1v-4zM160 342v6h1v-6zM161 342v3h1v-3zM162 339v6h1v-6zM163 341v4h1v-4zM164 341v4h1v-4zM165 341v4h1v-4zM166 340v4h1v-4zM167 340v3h1v-3zM168 339v5h1v-5zM169 339v4h1v-4zM170 337v6h1v-6zM171 338v5h1v-5zM172 337v5h1v-5zM173 337v5h1v-5zM174 339v2h1v-2zM175 336v4h1v-4zM176 336v4h1v-4zM177 336v4h1v-4zM178 335v4h1v-4zM179 334v4h1v-4zM180 334v5h1v-5zM181 333v4h1v-4zM182 334v4h1v-4zM183 333v3h1v-3zM184 333v3h1v-3zM185 332v3h1v-3zM186 332v4h1v-4zM187 331v5h1v-5zM188 330v5h1v-5zM189 329v5h1v-5zM190 330v4h1v-4zM191 330v3h1v-3zM192 329v5h1v-5zM193 329v4h1v-4zM194 328v5h1v-5zM195 329v4h1v-4zM196 330v5h1v-5zM197 330v5h1v-5zM198 330v4h1v-4zM199 330v6h1v-6zM200 332v3h1v-3zM201 331v4h1v-4zM202 331v4h1v-4zM203 329v6h1v-6zM204 331v5h1v-5zM205 331v4h1v-4zM206 333v3h1v-3zM207 331v5h1v-5zM208 331v5h1v-5zM209 330v4h1v-4zM210 329v4h1v-4zM211 329v3h1v-3zM212 328v4h1v-4zM213 328v6h1v-6zM214 328v4h1v-4zM215 329v3h1v-3zM216 324v7h1v-7zM217 327v4h1v-4zM218 327v3h1v-3zM219 327v4h1v-4zM220 326v3h1v-3zM221 326v4h1v-4zM222 325v5h1v-5zM223 325v4h1v-4zM224 325v4h1v-4zM225 324v6h1v-6zM226 324v3h1v-3zM227 324v5h1v-5zM228 323v4h1v-4zM229 322v6h1v-6zM230 321v6h1v-6zM231 321v5h1v-5zM232 320v6h1v-6zM233 320v5h1v-5zM234 321v4h1v-4zM235 319v4h1v-4zM236 318v4h1v-4zM237 316v4h1v-4zM238 315v5h1v-5zM239 315v4h1v-4zM240 313v4h1v-4zM241 313v4h1v-4zM242 312v4h1v-4zM243 312v4h1v-4zM244 312v4h1v-4zM245 312v3h1v-3zM246 312v5h1v-5zM247 312v4h1v-4zM248 311v5h1v-5zM249 310v5h1v-5zM250 309v4h1v-4zM251 309v4h1v-4zM252 306v5h1v-5zM253 306v5h1v-5zM254 305v5h1v-5zM255 304v5h1v-5zM256 304v4h1v-4zM257 303v4h1v-4zM258 303v4h1v-4zM259 301v4h1v-4zM260 299v4h1v-4zM261 299v5h1v-5zM262 297v4h1v-4zM263 294v6h1v-6zM264 294v5h1v-5zM265 292v5h1v-5zM266 293v4h1v-4zM267 292v4h1v-4zM268 292v4h1v-4zM269 293v5h1v-5zM270 293v5h1v-5zM271 293v5h1v-5zM272 293v5h1v-5zM273 291v5h1v-5zM274 290v5h1v-5zM275 289v6h1v-6zM276 287v4h1v-4zM277 286v4h1v-4zM278 285v5h1v-5zM279 286v3h1v-3zM280 285v3h1v-3zM281 285v3h1v-3zM282 284v4h1v-4zM283 284v4h1v-4zM284 283v5h1v-5zM285 283v4h1v-4zM286 282v5h1v-5zM287 283v3h1v-3zM288 283v3h1v-3zM289 282v9h1v-9zM290 283v6h1v-6zM291 282v4h1v-4zM292 283v4h1v-4zM293 283v2h1v-2zM294 282v4h1v-4zM295 281v5h1v-5zM296 282v5h1v-5zM297 281v5h1v-5zM298 282v4h1v-4zM299 283v3h1v-3zM300 284v4h1v-4zM301 286v3h1v-3zM302 286v3h1v-3zM303 285v5h1v-5zM304 285v5h1v-5zM305 287v4h1v-4zM306 288v6h1v-6zM307 289v3h1v-3zM308 287v4h1v-4zM309 286v3h1v-3zM310 284v5h1v-5zM311 283v4h1v-4zM312 280v5h1v-5zM313 279v5h1v-5zM314 276v6h1v-6zM315 276v4h1v-4zM316 277v3h1v-3zM317 276v4h1v-4zM318 276v4h1v-4zM319 275v4h1v-4zM320 275v3h1v-3zM321 274v3h1v-3zM322 274v3h1v-3zM323 273v4h1v-4zM324 274v3h1v-3zM325 273v4h1v-4zM326 271v6h1v-6zM327 273v4h1v-4zM328 273v3h1v-3zM329 272v5h1v-5zM330 272v7h1v-7zM331 271v4h1v-4zM332 272v3h1v-3zM333 271v4h1v-4zM334 273v4h1v-4zM335 273v4h1v-4zM336 273v4h1v-4zM337 274v3h1v-3zM338 274v4h1v-4zM339 274v4h1v-4zM340 274v4h1v-4zM341 274v4h1v-4zM342 272v4h1v-4zM343 271v5h1v-5zM344 270v5h1v-5zM345 269v6h1v-6zM346 268v7h1v-7zM347 268v6h1v-6zM348 267v6h1v-6zM349 266v4h1v-4zM350 265v6h1v-6zM351 265v4h1v-4zM352 264v4h1v-4zM353 265v3h1v-3zM354 264v4h1v-4zM355 264v4h1v-4zM356 264v5h1v-5zM357 262v5h1v-5zM358 263v4h1v-4zM359 264v4h1v-4zM360 262v4h1v-4zM361 263v4h1v-4zM362 264v3h1v-3zM363 263v3h1v-3zM364 263v3h1v-3zM365 263v4h1v-4zM366 263v4h1v-4zM367 262v4h1v-4zM368 262v4h1v-4zM369 262v4h1v-4zM370 261v4h1v-4zM371 260v5h1v-5zM372 261v3h1v-3zM373 261v4h1v-4zM374 260v4h1v-4zM375 259v5h1v-5zM376 261v3h1v-3zM377 260v3h1v-3zM378 259v4h1v-4zM379 260v3h1v-3zM380 259v4h1v-4zM381 259v5h1v-5zM382 259v4h1v-4zM383 259v3h1v-3zM384 259v3h1v-3zM385 258v4h1v-4zM386 257v6h1v-6zM387 257v5h1v-5zM388 259v4h1v-4zM389 259v4h1v-4zM390 260v3h1v-3zM391 259v6h1v-6zM392 259v3h1v-3zM393 260v4h1v-4zM394 259v5h1v-5zM395 258v5h1v-5zM396 259v5h1v-5zM397 259v6h1v-6zM398 260v4h1v-4zM399 261v5h1v-5zM400 261v5h1v-5zM401 262v5h1v-5zM402 262v8h1v-8zM403 265v5h1v-5zM404 266v4h1v-4zM405 268v4h1v-4zM406 266v6h1v-6zM407 265v5h1v-5zM408 265v4h1v-4zM409 265v5h1v-5zM410 264v4h1v-4zM411 263v3h1v-3zM412 261v4h1v-4zM413 262v4h1v-4zM414 261v4h1v-4zM415 261v3h1v-3zM416 261v3h1v-3zM417 259v4h1v-4zM418 258v5h1v-5zM419 260v3h1v-3zM420 258v6h1v-6zM421 258v4h1v-4zM422 259v3h1v-3zM423 260v5h1v-5zM424 259v4h1v-4zM425 257v6h1v-6zM426 260v3h1v-3zM427 259v5h1v-5zM428 260v3h1v-3zM429 259v5h1v-5zM430 260v4h1v-4zM431 262v4h1v-4zM432 260v4h1v-4zM433 261v3h1v-3zM434 261v4h1v-4zM435 261v4h1v-4zM436 259v5h1v-5zM437 260v4h1v-4zM438 259v4h1v-4zM439 260v2h1v-2zM440 260v2h1v-2zM441 258v5h1v-5zM442 257v6h1v-6zM443 259v3h1v-3zM444 258v5h1v-5zM445 258v7h1v-7zM446 259v5h1v-5zM447 261v3h1v-3zM448 260v3h1v-3zM449 261v3h1v-3zM450 262v4h1v-4zM451 262v3h1v-3zM452 262v3h1v-3zM453 262v4h1v-4zM454 263v3h1v-3zM455 264v4h1v-4zM456 262v5h1v-5zM457 264v6h1v-6zM458 266v3h1v-3zM459 266v3h1v-3zM460 265v6h1v-6zM461 265v5h1v-5zM462 267v3h1v-3zM463 267v4h1v-4zM464 267v5h1v-5zM465 269v5h1v-5zM466 269v4h1v-4zM467 270v4h1v-4zM468 272v3h1v-3zM469 271v4h1v-4zM470 270v3h1v-3zM471 268v5h1v-5zM472 268v6h1v-6zM473 267v5h1v-5zM474 268v4h1v-4zM475 270v3h1v-3zM476 271v3h1v-3zM477 272v3h1v-3zM478 272v4h1v-4zM479 273v3h1v-3zM480 274v4h1v-4zM481 274v5h1v-5zM482 273v5h1v-5zM483 275v3h1v-3zM484 273v5h1v-5zM485 275v5h1v-5zM486 275v4h1v-4zM487 276v4h1v-4zM488 276v4h1v-4zM489 275v4h1v-4zM490 276v4h1v-4zM491 275v5h1v-5zM492 275v5h1v-5zM493 274v5h1v-5zM494 275v4h1v-4zM495 276v4h1v-4zM496 276v5h1v-5zM497 277v4h1v-4zM498 277v4h1v-4zM499 277v4h1v-4zM500 277v5h1v-5zM501 278v3h1v-3zM502 276v6h1v-6zM503 278v4h1v-4zM504 278v3h1v-3zM505 279v4h1v-4zM506 279v3h1v-3zM507 279v4h1v-4zM508 279v4h1v-4zM509 279v4h1v-4zM510 278v6h1v-6zM511 280v6h1v-6zM512 280v5h1v-5zM513 281v4h1v-4zM514 281v5h1v-5zM515 282v4h1v-4zM516 282v4h1v-4zM517 283v5h1v-5zM518 284v5h1v-5zM519 284v4h1v-4zM520 284v5h1v-5zM521 285v4h1v-4zM522 286v4h1v-4zM523 287v4h1v-4zM524 288v4h1v-4zM525 289v4h1v-4zM526 289v4h1v-4zM527 291v3h1v-3zM528 290v4h1v-4zM529 291v4h1v-4zM530 291v4h1v-4zM531 293v4h1v-4zM532 294v4h1v-4zM533 293v5h1v-5zM534 295v4h1v-4zM535 296v4h1v-4zM536 297v4h1v-4zM537 298v4h1v-4zM538 297v5h1v-5zM539 299v4h1v-4zM540 301v3h1v-3zM541 302v3h1v-3zM542 300v5h1v-5zM543 301v6h1v-6zM544 303v4h1v-4zM545 304v3h1v-3zM546 302v4h1v-4zM547 302v4h1v-4zM548 303v4h1v-4zM549 302v4h1v-4zM550 300v5h1v-5zM551 300v6h1v-6zM552 300v4h1v-4zM553 299v5h1v-5zM554 300v4h1v-4zM555 301v4h1v-4zM556 301v5h1v-5zM557 301v5h1v-5zM558 303v4h1v-4zM559 304v4h1v-4zM560 305v3h1v-3zM561 304v4h1v-4zM562 304v3h1v-3zM563 304v3h1v-3zM564 304v3h1v-3zM565 303v3h1v-3zM566 302v3h1v-3zM567 302v3h1v-3zM568 300v4h1v-4zM569 298v6h1v-6zM570 300v5h1v-5zM571 301v4h1v-4zM572 300v3h1v-3zM573 301v4h1v-4zM574 302v3h1v-3zM575 302v4h1v-4zM576 302v4h1v-4zM577 302v5h1v-5zM578 303v4h1v-4zM579 303v5h1v-5zM580 304v3h1v-3zM581 303v4h1v-4zM582 301v4h1v-4zM583 300v4h1v-4zM584 300v4h1v-4zM585 299v3h1v-3zM586 297v5h1v-5zM587 296v4h1v-4zM588 296v4h1v-4zM589 295v5h1v-5zM590 295v3h1v-3zM591 293v5h1v-5zM592 292v4h1v-4zM593 289v5h1v-5zM594 289v5h1v-5zM595 288v5h1v-5zM596 287v4h1v-4zM597 285v6h1v-6zM598 284v5h1v-5zM599 282v4h1v-4zM600 282v6h1v-6zM601 281v4h1v-4zM602 281v3h1v-3zM603 279v5h1v-5zM604 279v4h1v-4zM605 277v4h1v-4zM606 276v4h1v-4zM607 276v3h1v-3zM608 276v5h1v-5zM609 276v6h1v-6zM610 278v4h1v-4zM611 279v4h1v-4zM612 279v5h1v-5zM613 278v7h1v-7zM614 277v4h1v-4zM615 277v4h1v-4zM616 276v4h1v-4zM617 274v5h1v-5zM618 273v4h1v-4zM619 273v4h1v-4zM620 274v3h1v-3zM621 273v4h1v-4zM622 272v4h1v-4zM623 272v4h1v-4zM624 272v5h1v-5zM625 273v5h1v-5zM626 271v5h1v-5zM627 270v5h1v-5zM628 270v4h1v-4zM629 267v6h1v-6zM630 266v4h1v-4zM631 265v5h1v-5zM632 262v5h1v-5zM633 263v4h1v-4zM634 263v4h1v-4zM635 260v5h1v-5zM636 260v4h1v-4zM637 260v5h1v-5zM638 260v4h1v-4zM639 261v3h1v-3zM640 260v3h1v-3zM641 260v4h1v-4zM642 260v4h1v-4zM643 260v3h1v-3zM644 259v3h1v-3zM645 260v2h1v-2zM646 259v3h1v-3zM647 259v4h1v-4zM648 258v4h1v-4zM649 257v4h1v-4zM650 258v3h1v-3zM651 258v4h1v-4zM652 257v4h1v-4zM653 254v7h1v-7zM654 256v5h1v-5zM655 255v5h1v-5zM656 255v4h1v-4zM657 254v4h1v-4zM658 255v3h1v-3zM659 254v6h1v-6zM660 253v5h1v-5zM661 253v4h1v-4zM662 253v3h1v-3zM663 252v5h1v-5zM664 252v4h1v-4zM665 250v6h1v-6zM666 251v4h1v-4zM667 250v5h1v-5zM668 251v3h1v-3zM669 250v5h1v-5zM670 249v6h1v-6zM671 249v4h1v-4zM672 249v5h1v-5zM673 249v3h1v-3zM674 249v3h1v-3zM675 247v5h1v-5zM676 248v3h1v-3zM677 246v7h1v-7zM678 246v6h1v-6zM679 247v4h1v-4zM680 246v5h1v-5zM681 246v5h1v-5zM682 246v3h1v-3zM683 244v4h1v-4zM684 244v4h1v-4zM685 242v5h1v-5zM686 243v3h1v-3zM687 241v6h1v-6zM688 241v4h1v-4zM689 242v3h1v-3zM690 240v4h1v-4zM691 240v4h1v-4zM692 240v3h1v-3zM693 239v6h1v-6zM694 239v6h1v-6zM695 239v4h1v-4zM696 239v4h1v-4zM697 239v4h1v-4zM698 240v5h1v-5zM699 241v2h1v-2zM700 239v5h1v-5zM701 239v5h1v-5zM702 238v7h1v-7zM703 239v4h1v-4zM704 237v4h1v-4zM705 238v2h1v-2zM706 236v5h1v-5zM707 234v6h1v-6zM708 236v4h1v-4zM709 234v4h1v-4zM710 232v6h1v-6zM711 234v4h1v-4zM712 235v3h1v-3zM713 235v4h1v-4zM714 235v4h1v-4zM715 236v4h1v-4zM716 237v3h1v-3zM717 236v5h1v-5zM718 237v4h1v-4zM719 235v6h1v-6zM720 236v5h1v-5zM721 239v4h1v-4zM722 239v4h1v-4zM723 238v5h1v-5zM724 239v5h1v-5zM725 239v5h1v-5zM726 240v5h1v-5zM727 237v6h1v-6zM728 238v4h1v-4zM729 237v3h1v-3zM730 237v4h1v-4zM731 236v4h1v-4zM732 236v5h1v-5zM733 236v4h1v-4zM734 235v5h1v-5zM735 235v4h1v-4zM736 234v5h1v-5zM737 233v5h1v-5zM738 232v6h1v-6zM739 233v5h1v-5zM740 234v3h1v-3zM741 233v4h1v-4zM742 233v5h1v-5zM743 233v4h1v-4zM744 232v3h1v-3zM745 231v3h1v-3zM746 230v5h1v-5zM747 229v3h1v-3zM748 227v7h1v-7zM749 226v4h1v-4zM750 226v4h1v-4zM751 225v5h1v-5zM752 224v6h1v-6zM753 224v5h1v-5zM754 223v4h1v-4zM755 223v4h1v-4zM756 222v4h1v-4zM757 222v5h1v-5zM758 220v5h1v-5zM759 220v5h1v-5zM760 222v4h1v-4zM761 223v3h1v-3zM762 223v3h1v-3zM763 223v4h1v-4zM764 222v5h1v-5zM765 224v4h1v-4zM766 224v6h1v-6zM767 224v5h1v-5zM768 224v5h1v-5zM769 224v6h1v-6zM770 225v5h1v-5zM771 226v5h1v-5zM772 226v4h1v-4zM773 226v5h1v-5zM774 227v4h1v-4zM775 228v4h1v-4zM776 229v5h1v-5zM777 230v4h1v-4zM778 230v4h1v-4zM779 230v5h1v-5zM780 231v5h1v-5zM781 232v5h1v-5zM782 233v5h1v-5zM783 234v4h1v-4zM784 235v4h1v-4zM785 234v5h1v-5zM786 234v5h1v-5zM787 235v3h1v-3zM788 235v3h1v-3zM789 233v4h1v-4zM790 234v4h1v-4zM791 235v4h1v-4zM792 235v4h1v-4zM793 232v4h1v-4zM794 233v5h1v-5zM795 233v5h1v-5zM796 232v4h1v-4zM797 232v7h1v-7zM798 232v6h1v-6zM799 233v4h1v-4zM800 231v6h1v-6zM801 231v4h1v-4zM802 230v4h1v-4zM803 228v5h1v-5zM804 228v6h1v-6zM805 225v5h1v-5zM806 226v3h1v-3zM807 223v5h1v-5zM808 221v6h1v-6zM809 223v5h1v-5zM810 222v3h1v-3zM811 222v4h1v-4zM812 222v5h1v-5zM813 222v4h1v-4zM814 221v4h1v-4zM815 221v5h1v-5zM816 222v7h1v-7zM817 225v3h1v-3zM818 226v6h1v-6zM819 227v7h1v-7zM820 228v6h1v-6zM821 232v3h1v-3zM822 233v5h1v-5zM823 233v5h1v-5zM824 232v5h1v-5zM825 231v3h1v-3zM826 231v5h1v-5zM827 230v4h1v-4zM828 229v4h1v-4zM829 230v4h1v-4zM830 228v5h1v-5zM831 228v3h1v-3zM832 228v4h1v-4zM833 227v4h1v-4zM834 227v3h1v-3zM835 226v3h1v-3zM836 224v4h1v-4zM837 225v5h1v-5zM838 222v6h1v-6zM839 224v4h1v-4zM840 224v3h1v-3zM841 223v5h1v-5zM842 225v4h1v-4zM843 226v4h1v-4zM844 227v4h1v-4zM845 226v4h1v-4zM846 225v7h1v-7zM847 225v5h1v-5zM848 225v2h1v-2zM849 222v5h1v-5zM850 221v5h1v-5zM851 219v7h1v-7zM852 222v5h1v-5zM853 224v5h1v-5zM854 225v3h1v-3zM855 225v4h1v-4zM856 224v8h1v-8zM857 224v5h1v-5zM858 222v4h1v-4zM859 220v5h1v-5zM860 218v6h1v-6zM861 220v5h1v-5zM862 219v5h1v-5zM863 218v3h1v-3zM864 217v5h1v-5zM865 219v3h1v-3zM866 217v6h1v-6zM867 219v6h1v-6zM868 220v4h1v-4zM869 221v4h1v-4zM870 222v3h1v-3zM871 223v5h1v-5zM872 223v5h1v-5zM873 225v5h1v-5zM874 227v3h1v-3z"/>
<path fill="#c000ff" d="M99 488v174h1v-174zM100 474v188h1v-188zM101 474v174h1v-174zM102 554v108h1v-108zM103 554v120h1v-120zM104 501v161h1v-161zM105 354v308h1v-308zM106 514v160h1v-160zM107 527v135h1v-135zM108 514v148h1v-148zM109 394v268h1v-268zM110 554v120h1v-120zM111 501v161h1v-161zM112 527v135h1v-135zM113 514v148h1v-148zM114 514v160h1v-160zM115 541v121h1v-121zM116 408v254h1v-254zM117 541v133h1v-133zM118 514v160h1v-160zM119 448v214h1v-214zM120 581v93h1v-93zM121 554v94h1v-94zM122 554v108h1v-108zM123 554v120h1v-120zM124 527v135h1v-135zM125 541v121h1v-121zM126 501v173h1v-173zM127 527v147h1v-147zM128 541v121h1v-121zM129 421v241h1v-241zM130 488v174h1v-174zM131 514v160h1v-160zM132 527v135h1v-135zM133 581v93h1v-93zM134 581v93h1v-93zM135 567v95h1v-95zM136 514v148h1v-148zM137 621v53h1v-53zM138 647v27h1v-27zM139 647v27h1v-27zM140 647v27h1v-27zM141 647v27h1v-27zM142 661v13h1v-13zM143 661v13h1v-13zM144 661v13h1v-13zM145 661v13h1v-13zM146 661v13h1v-13zM147 634v40h1v-40zM148 634v40h1v-40zM149 607v67h1v-67zM150 634v40h1v-40zM151 634v40h1v-40zM152 634v40h1v-40zM153 621v53h1v-53zM154 634v40h1v-40zM155 661v13h1v-13zM156 621v53h1v-53zM157 661v13h1v-13zM158 661v13h1v-13zM159 647v27h1v-27zM160 607v67h1v-67zM161 621v53h1v-53zM162 647v27h1v-27zM163 647v27h1v-27zM164 621v53h1v-53zM165 621v53h1v-53zM166 594v80h1v-80zM167 581v93h1v-93zM168 581v81h1v-81zM169 567v95h1v-95zM170 554v108h1v-108zM171 488v174h1v-174zM172 581v93h1v-93zM173 581v81h1v-81zM174 567v107h1v-107zM175 567v95h1v-95zM176 581v81h1v-81zM177 554v120h1v-120zM178 581v93h1v-93zM179 527v135h1v-135zM180 541v133h1v-133zM181 527v135h1v-135zM182 554v108h1v-108zM183 501v173h1v-173zM184 501v107h1v-107zM185 421v253h1v-253zM186 434v228h1v-228zM187 448v226h1v-226zM188 514v148h1v-148zM189 501v173h1v-173zM190 527v147h1v-147zM191 434v228h1v-228zM192 554v108h1v-108zM193 621v53h1v-53zM194 554v108h1v-108zM195 594v80h1v-80zM196 488v186h1v-186zM197 527v135h1v-135zM198 554v108h1v-108zM199 567v95h1v-95zM200 567v107h1v-107zM201 567v55h1v-55zM202 527v135h1v-135zM203 474v188h1v-188zM204 501v173h1v-173zM205 434v228h1v-228zM206 368v294h1v-294zM207 501v161h1v-161zM208 554v108h1v-108zM209 541v107h1v-107zM210 488v186h1v-186zM211 541v121h1v-121zM212 567v107h1v-107zM213 581v81h1v-81zM214 488v186h1v-186zM215 594v80h1v-80zM216 594v68h1v-68zM217 567v95h1v-95zM218 514v148h1v-148zM219 461v213h1v-213zM220 527v121h1v-121zM221 567v81h1v-81zM222 581v81h1v-81zM223 567v107h1v-107zM224 488v186h1v-186zM225 514v160h1v-160zM226 567v95h1v-95zM227 581v81h1v-81zM228 567v95h1v-95zM229 567v107h1v-107zM230 567v107h1v-107zM231 554v108h1v-108zM232 567v107h1v-107zM233 567v55h1v-55zM234 581v93h1v-93zM235 527v135h1v-135zM236 501v134h1v-134zM237 607v41h1v-41zM238 554v108h1v-108zM239 501v173h1v-173zM240 448v214h1v-214zM241 488v174h1v-174zM242 501v161h1v-161zM243 434v228h1v-228zM244 567v68h1v-68zM245 488v186h1v-186zM246 541v133h1v-133zM247 448v214h1v-214zM248 647v27h1v-27zM249 541v107h1v-107zM250 434v228h1v-228zM251 488v174h1v-174zM252 408v266h1v-266zM253 527v147h1v-147zM254 421v241h1v-241zM255 501v173h1v-173zM256 527v147h1v-147zM257 434v228h1v-228zM258 567v95h1v-95zM259 554v120h1v-120zM260 421v253h1v-253zM261 461v201h1v-201zM262 474v188h1v-188zM263 541v121h1v-121zM264 527v135h1v-135zM265 647v15h1v-15zM266 541v121h1v-121zM267 501v161h1v-161zM268 394v268h1v-268zM269 448v226h1v-226zM270 527v121h1v-121zM271 434v240h1v-240zM272 448v226h1v-226zM273 474v200h1v-200zM274 527v135h1v-135zM275 554v108h1v-108zM276 461v201h1v-201zM277 594v54h1v-54zM278 581v81h1v-81zM279 567v95h1v-95zM280 527v135h1v-135zM281 581v93h1v-93zM282 554v120h1v-120zM283 448v226h1v-226zM284 554v120h1v-120zM285 607v55h1v-55zM286 567v107h1v-107zM287 581v93h1v-93zM288 554v120h1v-120zM289 594v68h1v-68zM290 621v53h1v-53zM291 527v147h1v-147zM292 461v201h1v-201zM293 527v147h1v-147zM294 567v107h1v-107zM295 434v228h1v-228zM296 554v108h1v-108zM297 567v95h1v-95zM298 554v120h1v-120zM299 394v268h1v-268zM300 554v94h1v-94zM301 514v134h1v-134zM302 581v81h1v-81zM303 581v93h1v-93zM304 408v254h1v-254zM305 501v161h1v-161zM306 541v133h1v-133zM307 474v188h1v-188zM308 381v281h1v-281zM309 514v148h1v-148zM310 488v174h1v-174zM311 541v121h1v-121zM312 461v201h1v-201zM313 541v121h1v-121zM314 488v174h1v-174zM315 394v268h1v-268zM316 354v308h1v-308zM317 501v173h1v-173zM318 514v160h1v-160zM319 394v268h1v-268zM320 381v281h1v-281zM321 474v188h1v-188zM322 394v280h1v-280zM323 408v254h1v-254zM324 514v160h1v-160zM325 527v135h1v-135zM326 408v266h1v-266zM327 434v228h1v-228zM328 488v174h1v-174zM329 501v121h1v-121zM330 394v268h1v-268zM331 461v213h1v-213zM332 408v254h1v-254zM333 554v108h1v-108zM334 514v148h1v-148zM335 567v68h1v-68zM336 554v108h1v-108zM337 514v148h1v-148zM338 501v161h1v-161zM339 501v161h1v-161zM340 541v121h1v-121zM341 514v148h1v-148zM342 434v214h1v-214zM343 488v174h1v-174zM344 514v160h1v-160zM345 448v214h1v-214zM346 488v186h1v-186zM347 554v108h1v-108zM348 488v186h1v-186zM349 541v94h1v-94zM350 448v214h1v-214zM351 501v161h1v-161zM352 514v148h1v-148zM353 461v201h1v-201zM354 581v81h1v-81zM355 381v281h1v-281zM356 554v108h1v-108zM357 527v135h1v-135zM358 527v135h1v-135zM359 581v81h1v-81zM360 567v107h1v-107zM361 434v240h1v-240zM362 448v214h1v-214zM363 554v108h1v-108zM364 527v108h1v-108zM365 527v135h1v-135zM366 541v107h1v-107zM367 554v108h1v-108zM368 488v174h1v-174zM369 581v93h1v-93zM370 501v161h1v-161zM371 488v134h1v-134zM372 541v121h1v-121zM373 527v147h1v-147zM374 421v241h1v-241zM375 474v188h1v-188zM376 461v187h1v-187zM377 474v174h1v-174zM378 501v161h1v-161zM379 488v174h1v-174zM380 527v135h1v-135zM381 408v266h1v-266zM382 421v241h1v-241zM383 461v213h1v-213zM384 448v214h1v-214zM385 514v160h1v-160zM386 541v107h1v-107zM387 501v147h1v-147zM388 541v133h1v-133zM389 541v121h1v-121zM390 541v107h1v-107zM391 514v160h1v-160zM392 488v174h1v-174zM393 421v253h1v-253zM394 554v120h1v-120zM395 541v133h1v-133zM396 501v173h1v-173zM397 514v148h1v-148zM398 461v213h1v-213zM399 434v240h1v-240zM400 474v188h1v-188zM401 501v161h1v-161zM402 434v228h1v-228zM403 394v280h1v-280zM404 634v40h1v-40zM405 368v294h1v-294zM406 514v148h1v-148zM407 488v174h1v-174zM408 501v161h1v-161zM409 461v201h1v-201zM410 448v226h1v-226zM411 501v173h1v-173zM412 554v81h1v-81zM413 541v107h1v-107zM414 514v148h1v-148zM415 541v121h1v-121zM416 541v133h1v-133zM417 554v108h1v-108zM418 541v133h1v-133zM419 554v120h1v-120zM420 488v186h1v-186zM421 541v121h1v-121zM422 514v148h1v-148zM423 474v200h1v-200zM424 448v214h1v-214zM425 501v161h1v-161zM426 554v108h1v-108zM427 567v95h1v-95zM428 567v95h1v-95zM429 514v160h1v-160zM430 514v148h1v-148zM431 541v121h1v-121zM432 501v161h1v-161zM433 488v186h1v-186zM434 514v148h1v-148zM435 527v135h1v-135zM436 474v200h1v-200zM437 527v135h1v-135zM438 514v160h1v-160zM439 474v188h1v-188zM440 501v173h1v-173zM441 567v95h1v-95zM442 541v121h1v-121zM443 501v161h1v-161zM444 554v120h1v-120zM445 474v188h1v-188zM446 541v121h1v-121zM447 581v81h1v-81zM448 594v68h1v-68zM449 474v188h1v-188zM450 514v148h1v-148zM451 488v174h1v-174zM452 581v93h1v-93zM453 541v121h1v-121zM454 581v93h1v-93zM455 408v266h1v-266zM456 554v94h1v-94zM457 554v108h1v-108zM458 501v173h1v-173zM459 594v41h1v-41zM460 488v174h1v-174zM461 567v95h1v-95zM462 594v68h1v-68zM463 594v80h1v-80zM464 541v133h1v-133zM465 514v148h1v-148zM466 567v107h1v-107zM467 448v214h1v-214zM468 527v135h1v-135zM469 527v147h1v-147zM470 527v135h1v-135zM471 527v147h1v-147zM472 541v121h1v-121zM473 448v214h1v-214zM474 567v95h1v-95zM475 408v254h1v-254zM476 541v121h1v-121zM477 581v81h1v-81zM478 554v108h1v-108zM479 434v228h1v-228zM480 554v108h1v-108zM481 541v107h1v-107zM482 527v121h1v-121zM483 567v95h1v-95zM484 527v135h1v-135zM485 501v161h1v-161zM486 594v80h1v-80zM487 527v135h1v-135zM488 541v121h1v-121zM489 554v120h1v-120zM490 501v173h1v-173zM491 581v81h1v-81zM492 607v41h1v-41zM493 594v80h1v-80zM494 594v54h1v-54zM495 594v68h1v-68zM496 554v120h1v-120zM497 541v133h1v-133zM498 581v81h1v-81zM499 461v213h1v-213zM500 554v108h1v-108zM501 567v55h1v-55zM502 474v188h1v-188zM503 514v160h1v-160zM504 567v107h1v-107zM505 474v188h1v-188zM506 554v94h1v-94zM507 567v107h1v-107zM508 581v81h1v-81zM509 541v121h1v-121zM510 594v68h1v-68zM511 581v67h1v-67zM512 408v266h1v-266zM513 527v135h1v-135zM514 514v160h1v-160zM515 594v80h1v-80zM516 594v80h1v-80zM517 594v80h1v-80zM518 607v55h1v-55zM519 594v68h1v-68zM520 554v108h1v-108zM521 594v68h1v-68zM522 621v41h1v-41zM523 554v108h1v-108zM524 514v160h1v-160zM525 581v81h1v-81zM526 474v188h1v-188zM527 567v107h1v-107zM528 581v81h1v-81zM529 594v68h1v-68zM530 474v200h1v-200zM531 527v135h1v-135zM532 408v266h1v-266zM533 594v80h1v-80zM534 554v120h1v-120zM535 581v93h1v-93zM536 541v121h1v-121zM537 554v108h1v-108zM538 581v81h1v-81zM539 594v68h1v-68zM540 594v68h1v-68zM541 607v55h1v-55zM542 634v28h1v-28zM543 607v67h1v-67zM544 594v80h1v-80zM545 594v80h1v-80zM546 607v67h1v-67zM547 567v107h1v-107zM548 567v107h1v-107zM549 621v27h1v-27zM550 581v93h1v-93zM551 607v67h1v-67zM552 607v41h1v-41zM553 607v55h1v-55zM554 474v188h1v-188zM555 567v95h1v-95zM556 567v107h1v-107zM557 554v108h1v-108zM558 488v174h1v-174zM559 594v54h1v-54zM560 581v67h1v-67zM561 567v95h1v-95zM562 474v200h1v-200zM563 554v120h1v-120zM564 594v68h1v-68zM565 581v67h1v-67zM566 541v121h1v-121zM567 581v81h1v-81zM568 474v188h1v-188zM569 607v67h1v-67zM570 567v107h1v-107zM571 567v95h1v-95zM572 554v108h1v-108zM573 621v41h1v-41zM574 567v95h1v-95zM575 607v41h1v-41zM576 554v108h1v-108zM577 581v93h1v-93zM578 581v93h1v-93zM579 594v68h1v-68zM580 501v161h1v-161zM581 567v107h1v-107zM582 448v214h1v-214zM583 594v80h1v-80zM584 581v81h1v-81zM585 594v68h1v-68zM586 594v54h1v-54zM587 567v95h1v-95zM588 607v67h1v-67zM589 541v121h1v-121zM590 527v147h1v-147zM591 607v41h1v-41zM592 594v68h1v-68zM593 567v107h1v-107zM594 554v120h1v-120zM595 554v120h1v-120zM596 607v41h1v-41zM597 621v53h1v-53zM598 607v67h1v-67zM599 607v41h1v-41zM600 621v53h1v-53zM601 607v67h1v-67zM602 647v27h1v-27zM603 634v28h1v-28zM605 647v27h1v-27zM611 647v27h1v-27zM612 634v40h1v-40zM613 647v27h1v-27zM615 661v13h1v-13zM616 661v13h1v-13zM617 661v13h1v-13zM618 661v13h1v-13zM619 661v13h1v-13zM632 661v13h1v-13zM635 661v13h1v-13zM640 661v13h1v-13zM646 661v13h1v-13zM651 661v13h1v-13zM656 634v40h1v-40zM657 634v40h1v-40zM658 647v27h1v-27zM659 647v27h1v-27zM660 647v27h1v-27zM661 574v100h1v-100zM662 661v13h1v-13zM663 647v27h1v-27zM664 647v27h1v-27zM665 647v27h1v-27zM666 661v13h1v-13zM667 647v27h1v-27zM668 647v27h1v-27zM669 661v13h1v-13zM670 661v13h1v-13zM671 647v27h1v-27zM672 634v40h1v-40zM673 634v40h1v-40zM674 634v40h1v-40zM675 647v27h1v-27zM676 647v27h1v-27zM677 634v28h1v-28zM678 594v54h1v-54zM679 647v27h1v-27zM680 554v120h1v-120zM681 581v93h1v-93zM682 647v27h1v-27zM683 634v40h1v-40zM684 621v53h1v-53zM685 621v53h1v-53zM686 621v41h1v-41zM687 607v67h1v-67zM688 621v53h1v-53zM689 594v80h1v-80zM690 621v53h1v-53zM691 634v40h1v-40zM692 621v53h1v-53zM693 607v67h1v-67zM694 621v53h1v-53zM695 634v40h1v-40zM696 621v53h1v-53zM697 607v67h1v-67zM698 621v53h1v-53zM699 567v107h1v-107zM700 647v27h1v-27zM701 621v53h1v-53zM702 647v27h1v-27zM703 634v40h1v-40zM704 647v27h1v-27zM705 634v40h1v-40zM706 647v15h1v-15zM707 634v40h1v-40zM708 647v27h1v-27zM709 594v80h1v-80zM710 647v27h1v-27zM711 647v27h1v-27zM712 647v27h1v-27zM713 634v40h1v-40zM714 621v53h1v-53zM715 621v53h1v-53zM716 634v40h1v-40zM717 647v15h1v-15zM718 621v53h1v-53zM719 647v27h1v-27zM720 581v93h1v-93zM721 607v67h1v-67zM722 621v53h1v-53zM723 581v93h1v-93zM724 634v40h1v-40zM725 634v40h1v-40zM726 621v27h1v-27zM727 647v27h1v-27zM728 634v40h1v-40zM729 634v40h1v-40zM730 621v41h1v-41zM731 647v27h1v-27zM732 581v93h1v-93zM733 634v28h1v-28zM734 621v53h1v-53zM735 647v27h1v-27zM736 554v108h1v-108zM737 621v41h1v-41zM738 621v41h1v-41zM739 647v27h1v-27zM740 621v53h1v-53zM741 581v81h1v-81zM742 621v53h1v-53zM743 621v53h1v-53zM744 634v40h1v-40zM745 647v27h1v-27zM746 621v53h1v-53zM747 527v147h1v-147zM748 661v13h1v-13zM749 647v27h1v-27zM750 661v13h1v-13zM751 647v27h1v-27zM752 661v1h1v-1zM753 647v27h1v-27zM754 647v27h1v-27zM755 647v27h1v-27zM756 647v27h1v-27zM757 647v27h1v-27zM758 634v40h1v-40zM759 621v53h1v-53zM760 621v41h1v-41zM761 607v41h1v-41zM762 634v40h1v-40zM763 581v93h1v-93zM764 567v107h1v-107zM765 621v41h1v-41zM766 594v80h1v-80zM767 554v120h1v-120zM768 594v68h1v-68zM769 634v40h1v-40zM770 607v67h1v-67zM771 607v67h1v-67zM772 634v40h1v-40zM773 647v27h1v-27zM774 621v53h1v-53zM775 661v13h1v-13zM776 647v27h1v-27zM777 647v27h1v-27zM778 661v13h1v-13zM779 607v67h1v-67zM780 634v40h1v-40zM781 647v27h1v-27zM782 647v27h1v-27zM783 647v27h1v-27zM784 647v27h1v-27zM785 661v13h1v-13zM786 647v27h1v-27zM787 634v40h1v-40zM788 634v40h1v-40zM789 647v27h1v-27zM791 661v13h1v-13zM792 661v13h1v-13zM794 661v13h1v-13zM795 661v13h1v-13zM796 661v13h1v-13zM797 634v40h1v-40zM798 647v27h1v-27zM799 661v13h1v-13zM801 661v13h1v-13zM802 661v13h1v-13zM804 634v40h1v-40zM805 661v13h1v-13zM807 661v13h1v-13zM808 661v13h1v-13zM809 634v40h1v-40zM810 647v27h1v-27zM811 661v13h1v-13zM812 661v13h1v-13zM814 661v13h1v-13zM815 661v13h1v-13zM816 661v13h1v-13zM817 661v13h1v-13zM818 647v27h1v-27zM819 661v13h1v-13zM820 647v27h1v-27zM821 647v27h1v-27zM822 647v27h1v-27zM823 647v27h1v-27zM824 621v53h1v-53zM825 647v27h1v-27zM826 647v27h1v-27zM827 647v27h1v-27zM828 634v40h1v-40zM829 607v67h1v-67zM830 634v40h1v-40zM831 647v27h1v-27zM832 647v15h1v-15zM833 661v13h1v-13zM834 647v27h1v-27zM835 634v40h1v-40zM836 621v53h1v-53zM837 634v40h1v-40zM838 634v40h1v-40zM839 647v27h1v-27zM840 647v27h1v-27zM841 634v40h1v-40zM842 647v27h1v-27zM843 647v15h1v-15zM844 647v27h1v-27zM845 634v40h1v-40zM846 661v13h1v-13zM847 647v27h1v-27zM848 647v15h1v-15zM849 647v27h1v-27zM850 621v53h1v-53zM851 661v13h1v-13zM852 634v40h1v-40zM853 647v27h1v-27zM854 647v27h1v-27zM855 661v13h1v-13zM856 594v80h1v-80zM857 647v27h1v-27zM858 661v13h1v-13zM859 647v27h1v-27zM860 647v27h1v-27zM861 621v53h1v-53zM862 647v27h1v-27zM863 647v27h1v-27zM864 634v40h1v-40zM865 647v15h1v-15zM866 647v27h1v-27zM867 647v27h1v-27zM868 634v40h1v-40zM869 647v27h1v-27zM870 634v40h1v-40zM871 634v28h1v-28zM872 647v27h1v-27zM873 634v40h1v-40zM874 594v68h1v-68z"/>
<path fill="#ff0000" d="M874 9h1v612h-1z"/>
<path fill="#000000" d="M98 8h778v1h-778zM98 674h778v1h-778zM98 8h1v667h-1zM875 8h1v667h-1zM98 674h1v9h-1zM98 0h1v9h-1zM228 674h1v9h-1zM228 0h1v9h-1zM357 674h1v9h-1zM357 0h1v9h-1zM487 674h1v9h-1zM487 0h1v9h-1zM616 674h1v9h-1zM616 0h1v9h-1zM746 674h1v9h-1zM746 0h1v9h-1zM875 674h1v9h-1zM875 0h1v9h-1zM90 674h9v1h-9zM875 674h9v1h-9zM90 541h9v1h-9zM875 541h9v1h-9zM90 408h9v1h-9zM875 408h9v1h-9zM90 274h9v1h-9zM875 274h9v1h-9zM90 141h9v1h-9zM875 141h9v1h-9zM90 8h9v1h-9zM875 8h9v1h-9zM875 674h9v1h-9zM875 507h9v1h-9zM875 341h9v1h-9zM875 174h9v1h-9zM875 8h9v1h-9z"/>
<path fill="#ff0000" d="M282 762h53v1h-53z"/><path fill="#00c000" d="M282 781h53v1h-53z"/><path fill="#0080ff" d="M565 762h53v1h-53z"/><path fill="#c000ff" d="M565 781h53v1h-53z"/><path fill="#00eeee" d="M848 762h53v1h-53z"/>
</g>
<g opacity="0.999">
<text x="75.0" y="679.3" text-anchor="end" textLength="10.0" lengthAdjust="spacingAndGlyphs">0</text>
<text x="75.0" y="546.3" text-anchor="end" textLength="20.0" lengthAdjust="spacingAndGlyphs">20</text>
<text x="75.0" y="413.3" text-anchor="end" textLength="20.0" lengthAdjust="spacingAndGlyphs">40</text>
<text x="75.0" y="279.3" text-anchor="end" textLength="20.0" lengthAdjust="spacingAndGlyphs">60</text>
<text x="75.0" y="146.3" text-anchor="end" textLength="20.0" lengthAdjust="spacingAndGlyphs">80</text>
<text x="75.0" y="13.3" text-anchor="end" textLength="30.0" lengthAdjust="spacingAndGlyphs">100</text>
<text x="898.6" y="679.2" text-anchor="start" textLength="51.4" lengthAdjust="spacingAndGlyphs">97000</text>
<text x="898.6" y="512.2" text-anchor="start" textLength="51.4" lengthAdjust="spacingAndGlyphs">97500</text>
<text x="898.6" y="346.2" text-anchor="start" textLength="51.4" lengthAdjust="spacingAndGlyphs">98000</text>
<text x="898.6" y="179.2" text-anchor="start" textLength="51.4" lengthAdjust="spacingAndGlyphs">98500</text>
<text x="898.6" y="13.2" text-anchor="start" textLength="51.4" lengthAdjust="spacingAndGlyphs">99000</text>
<text x="98.7" y="705.8" text-anchor="middle" textLength="10.0" lengthAdjust="spacingAndGlyphs">0</text>
<text x="228.7" y="705.8" text-anchor="middle" textLength="10.0" lengthAdjust="spacingAndGlyphs">5</text>
<text x="357.7" y="705.8" text-anchor="middle" textLength="20.0" lengthAdjust="spacingAndGlyphs">10</text>
<text x="487.7" y="705.8" text-anchor="middle" textLength="20.0" lengthAdjust="spacingAndGlyphs">15</text>
<text x="616.7" y="705.8" text-anchor="middle" textLength="20.0" lengthAdjust="spacingAndGlyphs">20</text>
<text x="746.7" y="705.8" text-anchor="middle" textLength="20.0" lengthAdjust="spacingAndGlyphs">25</text>
<text x="875.7" y="705.8" text-anchor="middle" textLength="20.0" lengthAdjust="spacingAndGlyphs">30</text>
<text x="483.6" y="734" text-anchor="middle" textLength="66.0" lengthAdjust="spacingAndGlyphs">Time [s]</text>
<text x="18.2" y="342.8" text-anchor="middle" textLength="76.6" lengthAdjust="spacingAndGlyphs" transform="rotate(-90 18.2 342.8)">T [deg C]</text>
<text x="982.6" y="341.6" text-anchor="middle" textLength="47.8" lengthAdjust="spacingAndGlyphs" transform="rotate(-90 982.6 341.6)">p [Pa]</text>
<text x="266.4" y="766.8" text-anchor="end" textLength="101.6" lengthAdjust="spacingAndGlyphs">Temperature</text>
<text x="268.8" y="786.3" text-anchor="end" textLength="73.0" lengthAdjust="spacingAndGlyphs">Humidity</text>
<text x="551.0" y="766.8" text-anchor="end" textLength="162.6" lengthAdjust="spacingAndGlyphs">Barometric pressure</text>
<text x="552.0" y="786.3" text-anchor="end" textLength="39.6" lengthAdjust="spacingAndGlyphs">Wind</text>
<text x="835.6" y="766.8" text-anchor="end" textLength="102.0" lengthAdjust="spacingAndGlyphs">Precipitation</text>
</g>
</svg>
</body>
</html>
